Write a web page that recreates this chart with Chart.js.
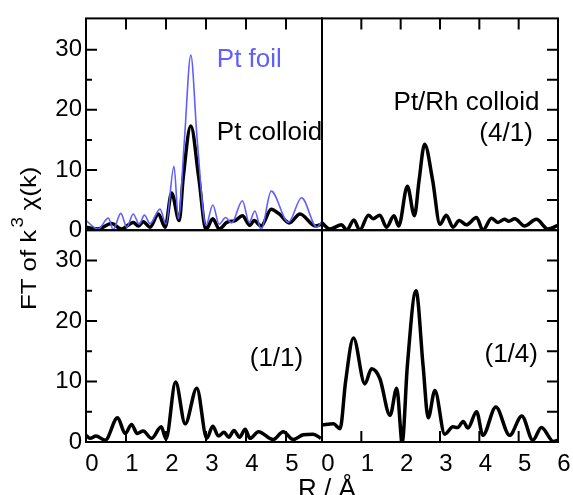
<!DOCTYPE html>
<html>
<head>
<meta charset="utf-8">
<script src="https://cdn.jsdelivr.net/npm/chart.js@4.4.1/dist/chart.umd.min.js"></script>
<style>
  html, body { margin: 0; padding: 0; background: #fff; overflow: hidden; }
</style>
</head>
<body>
<canvas id="ft" width="573" height="495"></canvas>
<script>
/* ─── Data (R in Å, FT magnitude) ─────────────────────────────────── */
const rFoil  = [0.0, 0.3, 0.56, 0.68, 0.87, 1.02, 1.18, 1.33, 1.46, 1.6, 1.85, 2.0, 2.2, 2.31, 2.46, 2.62, 2.78, 3.0, 3.17, 3.33, 3.49, 3.64, 3.91, 4.08, 4.22, 4.38, 4.63, 5.06, 5.39, 5.77, 5.9];
const ptFoil = [1.6, 0.2, 2.0, 0.1, 2.8, 0.5, 2.7, 1.0, 2.5, 1.1, 3.5, 1.0, 10.6, 1.9, 15.0, 29.1, 15.0, 0.8, 4.2, 1.0, 2.1, 1.2, 4.9, 1.3, 3.2, 0.1, 6.5, 1.3, 5.4, 0.5, 1.5];

const rPt      = [0.0, 0.3, 0.64, 0.89, 1.18, 1.31, 1.43, 1.6, 1.81, 1.98, 2.14, 2.33, 2.43, 2.62, 2.82, 3.0, 3.17, 3.33, 3.52, 3.73, 3.91, 4.1, 4.2, 4.38, 4.63, 4.83, 5.08, 5.35, 5.73, 5.9];
const ptColl   = [0.5, 0.2, 1.1, 0.2, 1.3, 0.7, 1.4, 0.5, 2.7, 0.5, 6.2, 1.6, 8.7, 17.3, 8.7, 0.1, 1.9, 0.2, 1.3, 1.6, 2.4, 0.8, 1.6, 0.7, 3.5, 2.7, 1.2, 2.7, 0.7, 1.0];

const r41  = [0.0, 0.2, 0.5, 0.63, 0.81, 0.96, 1.18, 1.3, 1.47, 1.64, 1.83, 1.95, 2.17, 2.35, 2.47, 2.61, 2.81, 3.0, 3.16, 3.33, 3.49, 3.67, 3.93, 4.09, 4.31, 4.47, 4.64, 4.75, 4.9, 5.15, 5.45, 5.74, 6.0];
const pr41 = [1.2, 0.2, 0.9, 0.0, 1.7, 0.0, 2.5, 1.9, 2.5, 0.5, 2.4, 0.7, 7.3, 2.4, 8.4, 14.3, 8.4, 1.0, 2.5, 0.5, 1.6, 0.9, 2.1, 0.0, 2.0, 1.3, 1.8, 1.5, 1.9, 0.7, 1.8, 0.2, 0.8];

const r11  = [0.0, 0.1, 0.25, 0.48, 0.79, 0.98, 1.14, 1.28, 1.43, 1.64, 1.88, 2.0, 2.24, 2.48, 2.77, 3.02, 3.17, 3.31, 3.45, 3.57, 3.7, 3.84, 3.98, 4.1, 4.31, 4.68, 4.93, 5.18, 5.43, 5.68, 5.87];
const pr11 = [1.1, 0.6, 1.0, 0.3, 4.0, 1.4, 2.9, 1.4, 1.8, 0.6, 2.5, 0.5, 9.9, 3.0, 8.9, 0.6, 2.6, 1.0, 1.6, 0.8, 1.9, 0.8, 2.1, 0.6, 1.7, 0.4, 1.7, 0.4, 1.2, 1.3, 0.6];

const r14  = [0.0, 0.29, 0.46, 0.6, 0.8, 1.09, 1.26, 1.47, 1.73, 1.9, 2.04, 2.17, 2.39, 2.57, 2.7, 2.87, 3.12, 3.33, 3.45, 3.59, 3.71, 3.93, 4.09, 4.42, 4.77, 5.08, 5.36, 5.58, 5.88, 6.0];
const pr14 = [2.8, 3.0, 2.2, 10.0, 17.2, 9.6, 12.1, 10.5, 4.4, 8.9, 0.0, 12.6, 25.0, 12.6, 4.0, 8.5, 1.3, 2.5, 2.4, 3.4, 2.3, 5.0, 1.1, 5.8, 1.1, 4.3, 0.3, 2.4, 0.1, 0.3];

const xTicksL = [0, 1, 2, 3, 4, 5];
const xTicksR = [0, 1, 2, 3, 4, 5, 6];
const yTicks  = [0, 10, 20, 30];
const yMinor  = [5, 15, 25];

/* ─── Styles ──────────────────────────────────────────────────────── */
const FONT  = "'Liberation Sans', Arial, Helvetica, sans-serif";
const BLUE  = '#5f5fff';
const BLACK = '#000';

// panels: which x / y scale, row & column in the 2x2 grid
const panels = [
  { x: 'xL', y: 'yT', row: 0, col: 0 },
  { x: 'xR', y: 'yT', row: 0, col: 1 },
  { x: 'xL', y: 'yB', row: 1, col: 0 },
  { x: 'xR', y: 'yB', row: 1, col: 1 },
];

// annotations, placed in data units of their panel
const notes = [
  { text: 'Pt foil',       x: 'xL', y: 'yT', r: 3.27, v: 27.1, align: 'left',  color: BLUE },
  { text: 'Pt colloid',    x: 'xL', y: 'yT', r: 3.27, v: 15.0, align: 'left',  color: BLACK },
  { text: 'Pt/Rh colloid', x: 'xR', y: 'yT', r: 5.53, v: 19.9, align: 'right', color: BLACK },
  { text: '(4/1)',         x: 'xR', y: 'yT', r: 5.36, v: 14.9, align: 'right', color: BLACK },
  { text: '(1/1)',         x: 'xL', y: 'yB', r: 5.43, v: 12.5, align: 'right', color: BLACK },
  { text: '(1/4)',         x: 'xR', y: 'yB', r: 5.49, v: 13.2, align: 'right', color: BLACK },
];

function pts(xs, ys) {
  return xs.map((x, i) => ({ x: x, y: ys[i] }));
}

function series(label, xs, ys, xId, yId, color, width) {
  return {
    label: label,
    data: pts(xs, ys),
    xAxisID: xId,
    yAxisID: yId,
    borderColor: color,
    borderWidth: width,
    pointRadius: 0,
    fill: false,
    cubicInterpolationMode: 'monotone',
  };
}

const tickFont = { family: FONT, size: 24 };

function yAxis(max, weight) {
  return {
    type: 'linear', position: 'left', stack: 'rows', stackWeight: 1, weight: weight,
    min: 0, max: max,
    grid: { display: false, drawTicks: false },
    border: { display: false },
    afterBuildTicks: s => { s.ticks = yTicks.map(v => ({ value: v })); },
    afterFit: s => { s.width = 86; },
    ticks: { font: tickFont, color: BLACK, padding: 4 },
  };
}

function xAxis(max, ticks) {
  return {
    type: 'linear', position: 'bottom', stack: 'cols', stackWeight: 1,
    min: 0, max: max,
    grid: { display: false, drawTicks: false },
    border: { display: false },
    afterBuildTicks: s => { s.ticks = ticks.map(v => ({ value: v })); },
    afterFit: s => { s.height = 53; },
    ticks: { font: tickFont, color: BLACK, padding: 8, labelOffset: 6, autoSkip: false, maxRotation: 0 },
  };
}

/* ─── Frames and inward ticks ─────────────────────────────────────── */
const framePlugin = {
  id: 'frames',
  afterDatasetsDraw(chart) {
    const ctx = chart.ctx;
    ctx.save();
    ctx.strokeStyle = BLACK;
    ctx.lineWidth = 2;
    panels.forEach(p => {
      const xs = chart.scales[p.x], ys = chart.scales[p.y];
      ctx.strokeRect(xs.left, ys.top, xs.right - xs.left, ys.bottom - ys.top);
      ctx.beginPath();
      // x ticks on the outer edge (top row -> top, bottom row -> bottom)
      xs.ticks.forEach(t => {
        if (t.value <= xs.min || t.value >= xs.max) return;
        const px = xs.getPixelForValue(t.value);
        const y0 = p.row === 0 ? ys.top : ys.bottom;
        ctx.moveTo(px, y0);
        ctx.lineTo(px, y0 + (p.row === 0 ? 11 : -11));
      });
      // y ticks on the outer edge (left col -> left, right col -> right)
      const ex = p.col === 0 ? xs.left : xs.right;
      const dir = p.col === 0 ? 1 : -1;
      yTicks.concat(yMinor).forEach(v => {
        if (v <= ys.min || v >= ys.max) return;
        const py = ys.getPixelForValue(v);
        const len = (p.col === 0 && yMinor.includes(v)) ? 6 : 11;
        ctx.moveTo(ex, py);
        ctx.lineTo(ex + dir * len, py);
      });
      ctx.stroke();
    });
    ctx.restore();
  },
  afterDraw(chart) {
    const ctx = chart.ctx;
    ctx.save();
    ctx.font = '26px ' + FONT;
    ctx.textBaseline = 'alphabetic';
    notes.forEach(n => {
      ctx.fillStyle = n.color;
      ctx.textAlign = n.align;
      ctx.fillText(n.text, chart.scales[n.x].getPixelForValue(n.r), chart.scales[n.y].getPixelForValue(n.v));
    });

    // x title
    ctx.fillStyle = BLACK;
    ctx.textAlign = 'center';
    ctx.font = '26px ' + FONT;
    ctx.fillText('R / \u00C5', 327, 497);

    // y title, rotated, with superscript 3
    ctx.translate(36, 310);
    ctx.rotate(-Math.PI / 2);
    ctx.scale(1.17, 1);
    ctx.textAlign = 'left';
    ctx.font = '22px ' + FONT;
    let w = 0;
    ctx.fillText('FT of k', 0, 0);
    w += ctx.measureText('FT of k').width + 2;
    ctx.font = '16px ' + FONT;
    ctx.fillText('3', w, -13);
    w += ctx.measureText('3').width + 6;
    ctx.font = '22px ' + FONT;
    ctx.fillText('\u03C7(k)', w, 0);
    ctx.restore();
  }
};

new Chart(document.getElementById('ft'), {
  type: 'line',
  data: {
    datasets: [
      series('Pt foil', rFoil, ptFoil, 'xL', 'yT', BLUE, 1.6),
      series('Pt colloid', rPt, ptColl, 'xL', 'yT', BLACK, 3.5),
      series('Pt/Rh (4/1)', r41, pr41, 'xR', 'yT', BLACK, 3.5),
      series('Pt/Rh (1/1)', r11, pr11, 'xL', 'yB', BLACK, 3.5),
      series('Pt/Rh (1/4)', r14, pr14, 'xR', 'yB', BLACK, 3.5),
    ]
  },
  options: {
    responsive: false,
    animation: false,
    devicePixelRatio: 1,
    layout: { padding: { top: 13, right: 15, left: 0, bottom: 0 } },
    plugins: { legend: { display: false }, tooltip: { enabled: false } },
    scales: {
      yT: yAxis(35.2, 1),
      yB: yAxis(35.0, 0),
      xL: xAxis(5.9, xTicksL),
      xR: xAxis(6.0, xTicksR),
    }
  },
  plugins: [framePlugin]
});
</script>
</body>
</html>
